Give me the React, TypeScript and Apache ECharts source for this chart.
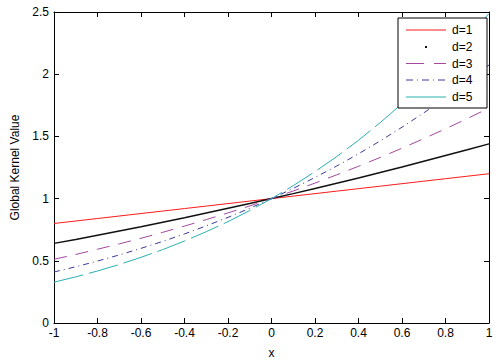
import React, { useEffect, useRef } from "react";
import * as echarts from "echarts";

const xValues = [-1, -0.9, -0.8, -0.7, -0.6, -0.5, -0.4, -0.3, -0.2, -0.1, 0, 0.1, 0.2, 0.3, 0.4, 0.5, 0.6, 0.7, 0.8, 0.9, 1];
const d1 = [0.8, 0.82, 0.84, 0.86, 0.88, 0.9, 0.92, 0.94, 0.96, 0.98, 1, 1.02, 1.04, 1.06, 1.08, 1.1, 1.12, 1.14, 1.16, 1.18, 1.2];
const d2 = [0.64, 0.672, 0.706, 0.74, 0.774, 0.81, 0.846, 0.884, 0.922, 0.96, 1, 1.04, 1.082, 1.124, 1.166, 1.21, 1.254, 1.3, 1.346, 1.392, 1.44];
const d3 = [0.512, 0.551, 0.593, 0.636, 0.681, 0.729, 0.779, 0.831, 0.885, 0.941, 1, 1.061, 1.125, 1.191, 1.26, 1.331, 1.405, 1.482, 1.561, 1.643, 1.728];
const d4 = [0.41, 0.452, 0.498, 0.547, 0.6, 0.656, 0.716, 0.781, 0.849, 0.922, 1, 1.082, 1.17, 1.262, 1.36, 1.464, 1.574, 1.689, 1.811, 1.939, 2.074];
const d5 = [0.328, 0.371, 0.418, 0.47, 0.528, 0.59, 0.659, 0.734, 0.815, 0.904, 1, 1.104, 1.217, 1.338, 1.469, 1.611, 1.762, 1.925, 2.1, 2.288, 2.488];
const seriesNames = ["d=1", "d=2", "d=3", "d=4", "d=5"];

const FONT = "Liberation Sans, Arial, sans-serif";

export default function App() {
  const ref = useRef<HTMLDivElement>(null);
  useEffect(() => {
    if (!ref.current) return;
    const chart = echarts.init(ref.current, undefined, { renderer: "svg" });
    const pair = (ys: number[]) => xValues.map((x, i) => [x, ys[i]]);
    const colors = ["#ff1a1a", "#111111", "#a3489e", "#3a3a9a", "#2ab0b0"];
    const dashes: any[] = ["solid", "solid", [13, 9], [6, 4, 1, 4], [30, 6]];
    const widths = [1, 1.5, 1, 1, 1];
    const legendDashes: any[] = [null, null, [18, 10], [7, 4, 1, 4], null];
    const datasets = [d1, d2, d3, d4, d5];
    const axisCommon = {
      axisLine: { onZero: false, lineStyle: { color: "#000", width: 1 } },
      axisTick: { inside: true, length: 5, lineStyle: { color: "#000" } },
      splitLine: { show: false },
    };

    // legend drawn with graphic elements, above the series
    const lx = 398, ly = 18, lw = 89, lh = 90;
    const itemY = [30, 47, 63.5, 80, 97];
    const Z = 100;
    const legendChildren: any[] = [
      { type: "rect", z: Z, shape: { x: lx, y: ly, width: lw, height: lh }, style: { fill: "#ffffff", stroke: "#000", lineWidth: 1 } },
    ];
    seriesNames.forEach((name, i) => {
      const y = itemY[i];
      if (i === 1) {
        legendChildren.push({ type: "rect", z: Z + 1, shape: { x: 425, y: y - 1, width: 2, height: 2 }, style: { fill: "#111" } });
      } else {
        legendChildren.push({
          type: "line",
          z: Z + 1,
          shape: { x1: 406, y1: y, x2: 446, y2: y },
          style: { stroke: colors[i], lineWidth: 1, lineDash: legendDashes[i] || undefined },
        });
      }
      legendChildren.push({
        type: "text",
        z: Z + 1,
        x: 452,
        y,
        style: { text: name, fill: "#000", font: `12px ${FONT}`, verticalAlign: "middle" },
      });
    });

    chart.setOption({
      animation: false,
      backgroundColor: "#fff",
      textStyle: { fontFamily: FONT },
      grid: { left: 54, right: 11, top: 12, bottom: 40 },
      graphic: legendChildren,
      xAxis: [
        {
          type: "value",
          min: -1,
          max: 1,
          interval: 0.2,
          name: "x",
          nameLocation: "middle",
          nameGap: 24,
          nameTextStyle: { fontSize: 12, color: "#000" },
          axisLabel: { fontSize: 12, color: "#000", margin: 4 },
          ...axisCommon,
        },
        {
          type: "value",
          position: "top",
          min: -1,
          max: 1,
          interval: 0.2,
          axisLabel: { show: false },
          ...axisCommon,
        },
      ],
      yAxis: [
        {
          type: "value",
          min: 0,
          max: 2.5,
          interval: 0.5,
          name: "Global Kernel Value",
          nameLocation: "middle",
          nameGap: 31,
          nameTextStyle: { fontSize: 12, color: "#000" },
          axisLabel: { fontSize: 12, color: "#000", margin: 5 },
          ...axisCommon,
        },
        {
          type: "value",
          position: "right",
          min: 0,
          max: 2.5,
          interval: 0.5,
          axisLabel: { show: false },
          ...axisCommon,
        },
      ],
      series: datasets.map((ys, i) => ({
        name: seriesNames[i],
        type: "line",
        xAxisIndex: 0,
        yAxisIndex: 0,
        data: pair(ys),
        symbol: "none",
        lineStyle: { color: colors[i], type: dashes[i], width: widths[i] },
        itemStyle: { color: colors[i] },
      })),
    });
    return () => chart.dispose();
  }, []);
  return <div ref={ref} style={{ width: 500, height: 364, position: "absolute", left: 0, top: 0 }} />;
}
